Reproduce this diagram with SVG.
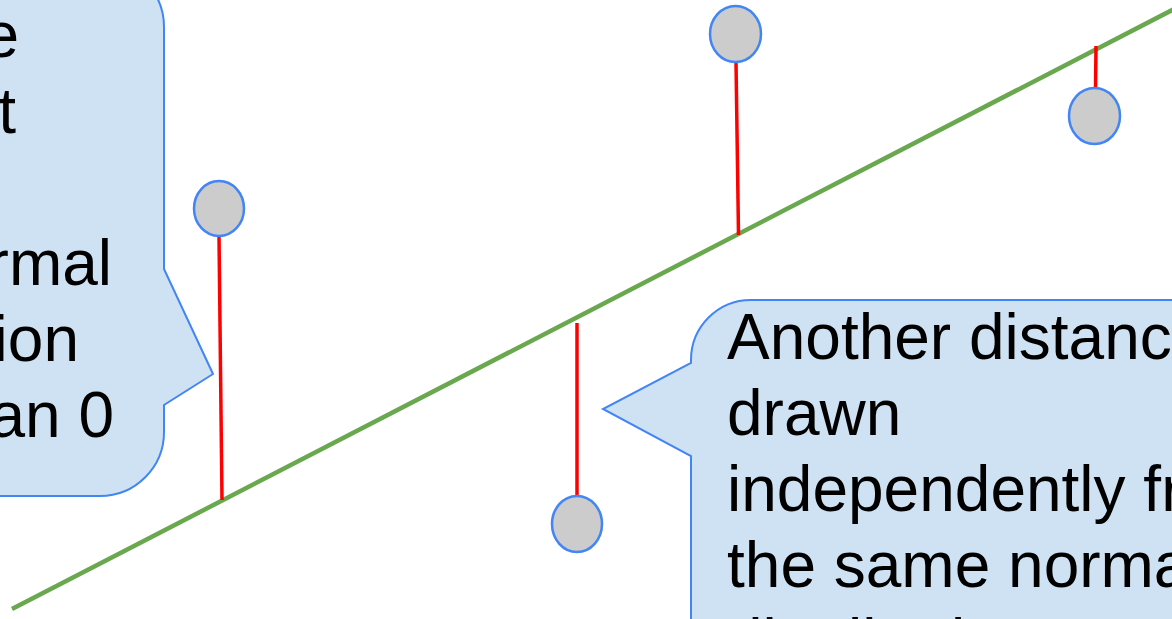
<svg xmlns="http://www.w3.org/2000/svg" width="1172" height="619" viewBox="0 0 1172 619">
  <style>
    .callout { fill: #cfe2f3; stroke: #4285f4; stroke-width: 2; stroke-linejoin: miter; }
    .txt { font-family: "Liberation Sans", Arial, sans-serif; font-size: 64px; fill: #000000; }
    .fit { fill: none; stroke: #6aa84f; stroke-width: 4.5; stroke-linecap: butt; }
    .resid { fill: none; stroke: #ff0000; stroke-width: 3.5; }
    .pt { fill: #cccccc; stroke: #4285f4; stroke-width: 2.5; }
  </style>
  <rect x="0" y="0" width="1172" height="619" fill="#ffffff"/>

  <g id="callout-left">
    <path class="callout" d="M -262 -37 L 100 -37 A 64 64 0 0 1 164 27 L 164 269 L 213 374 L 164 405 L 164 432 A 64 64 0 0 1 100 496 L -262 496 Z"/>
    <text class="txt" text-anchor="end" x="19" y="57">Distance</text>
    <text class="txt" text-anchor="end" x="16" y="133">of a point</text>
    <text class="txt" text-anchor="end" x="-20" y="209">is drawn</text>
    <text class="txt" text-anchor="end" x="112" y="285">from normal</text>
    <text class="txt" text-anchor="end" x="79" y="361">distribution</text>
    <text class="txt" text-anchor="end" x="114" y="437">with mean 0</text>
  </g>

  <g id="callout-right">
    <path class="callout" d="M 691 360 A 60 60 0 0 1 751 300 L 1240 300 L 1240 680 L 691 680 L 691 456 L 603 409 L 691 363 Z"/>
    <text class="txt" x="727" y="359">Another distance is</text>
    <text class="txt" x="727" y="435">drawn</text>
    <text class="txt" x="727" y="511">independently from</text>
    <text class="txt" x="727" y="587">the same normal</text>
    <text class="txt" x="727" y="664">distribution</text>
  </g>

  <g id="connectors">
    <line class="fit" x1="12" y1="609" x2="1180" y2="6"/>
    <line class="resid" x1="219" y1="236" x2="222" y2="500"/>
    <line class="resid" x1="736" y1="62" x2="738.5" y2="235"/>
    <line class="resid" x1="1095.5" y1="88" x2="1096" y2="46"/>
    <line class="resid" x1="577" y1="323" x2="577" y2="496"/>
  </g>

  <g id="point-1"><ellipse class="pt" cx="219" cy="208.5" rx="25" ry="27.5"/></g>
  <g id="point-2"><ellipse class="pt" cx="735.5" cy="34" rx="25.5" ry="28"/></g>
  <g id="point-3"><ellipse class="pt" cx="1094.5" cy="116" rx="25.5" ry="28"/></g>
  <g id="point-4"><ellipse class="pt" cx="577" cy="524" rx="25" ry="28"/></g>
</svg>
